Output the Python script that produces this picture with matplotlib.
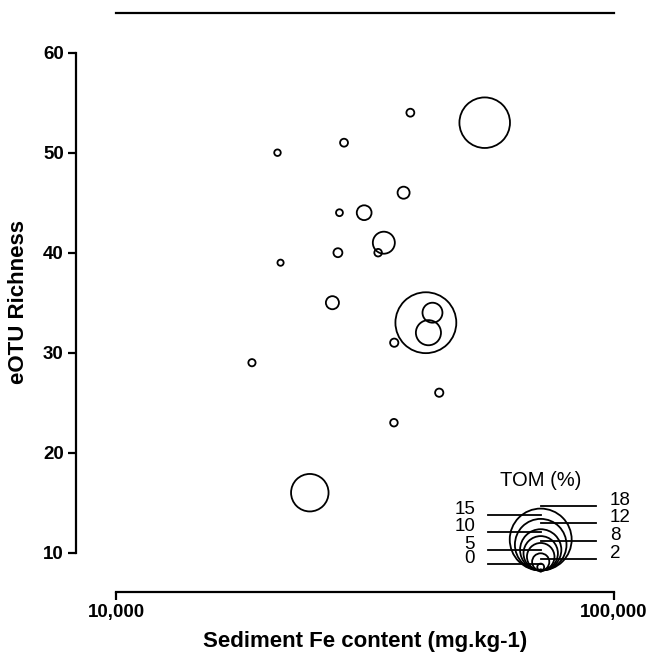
import matplotlib
matplotlib.use("Agg")
import matplotlib.pyplot as plt
import numpy as np

# ---- data ----
fe_content = [39000, 55000, 28700, 21100, 37800, 28100, 31500, 34500, 33600, 27900,
              21400, 27200, 41900, 43200, 42400, 36200, 18750, 44570, 36150, 24500]
richness = [54, 53, 51, 50, 46, 44, 44, 41, 40, 40,
            39, 35, 33, 34, 32, 31, 29, 26, 23, 16]
tom = [2.3, 14.7, 2.3, 1.9, 3.5, 2.0, 4.3, 6.4, 2.2, 2.6,
       1.8, 3.8, 17.7, 5.8, 7.3, 2.4, 2.1, 2.4, 2.2, 10.9]
legend_values = [18, 15, 12, 10, 8, 5, 2, 0]
x_ticks = [10000, 100000]
x_tick_labels = ["10,000", "100,000"]
y_ticks = [10, 20, 30, 40, 50, 60]

plt.rcParams['font.family'] = ['Liberation Sans', 'DejaVu Sans']

W, H, DPI = 648, 658, 100
fig = plt.figure(figsize=(W / DPI, H / DPI), dpi=DPI)

PX_PER_TOM = 1.72  # circle radius in pixels per % TOM


def marker_area(values):
    r_px = np.maximum(np.asarray(values, float) * PX_PER_TOM, 1.2)
    return (2 * r_px * 72 / DPI) ** 2

# axes rect in pixels: x 116..614, y(top) 13..592
left, right, top, bottom = 116, 614, 13, 592
ax = fig.add_axes([left / W, (H - bottom) / H, (right - left) / W, (bottom - top) / H])
ax.set_xscale('log')
ax.set_xlim(1e4, 1e5)
ax.set_ylim(6.07, 63.97)

ax.scatter(fe_content, richness, s=marker_area(tom), facecolors='none',
           edgecolors='black', linewidths=1.3, zorder=3)

ax.spines['right'].set_visible(False)
for side in ['left', 'bottom', 'top']:
    ax.spines[side].set_linewidth(1.6)
ax.spines['left'].set_position(('outward', 40 * 72 / DPI))
ax.spines['left'].set_bounds(10, 60)

ax.set_xticks(x_ticks)
ax.set_xticklabels(x_tick_labels)
ax.xaxis.set_minor_locator(matplotlib.ticker.NullLocator())
ax.set_yticks(y_ticks)
ax.tick_params(axis='both', direction='out', length=5.8, width=1.6,
               labelsize=13.5, pad=3)
for lab in ax.get_xticklabels() + ax.get_yticklabels():
    lab.set_fontweight('bold')

ax.set_xlabel("Sediment Fe content (mg.kg-1)", fontsize=16, fontweight='bold')
ax.xaxis.set_label_coords(0.5, (bottom - 641) / (bottom - top))
ax.xaxis.label.set_va('center')
ax.set_ylabel("eOTU Richness", fontsize=16, fontweight='bold')
ax.yaxis.set_label_coords((19 - left) / (right - left), 0.5)
ax.yaxis.label.set_va('center')

# ---- legend overlay in pixel coordinates ----
ov = fig.add_axes([0, 0, 1, 1])
ov.set_xlim(0, W)
ov.set_ylim(H, 0)
ov.axis('off')
ov.patch.set_alpha(0)

cx, base = 540.7, 570.5
leg_r = np.array(legend_values, float) * PX_PER_TOM
ov.scatter([cx] * len(legend_values), base - leg_r, s=marker_area(legend_values),
           facecolors='none', edgecolors='black', linewidths=1.3, zorder=3)
line_y = list(np.linspace(505.7, 559, 7)) + [564.3]
for i, (v, ly) in enumerate(zip(legend_values, line_y)):
    if i % 2 == 0:  # right side
        ov.plot([cx, 596], [ly, ly], color='black', lw=1.3)
        ov.text(610, ly - 1, str(v), ha='left', va='baseline', fontsize=13.5)
    else:
        ov.plot([488, cx], [ly, ly], color='black', lw=1.3)
        ov.text(475, ly - 1, str(v), ha='right', va='baseline', fontsize=13.5)
ov.text(541, 481, "TOM (%)", ha='center', va='center', fontsize=14.5)

fig.savefig("out.png", dpi=DPI)
